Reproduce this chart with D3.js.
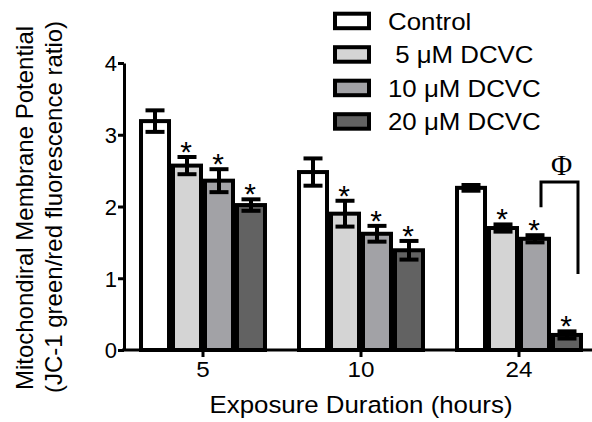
<!DOCTYPE html>
<html>
<head>
<meta charset="utf-8">
<script src="https://cdn.jsdelivr.net/npm/d3@7"></script>
<style>
  body { margin: 0; background: #fff; }
  svg { font-family: Arial, "Liberation Sans", sans-serif; }
</style>
</head>
<body>
<svg width="592" height="422"></svg>
<script>
var durations = ["5", "10", "24"];
var groups = ["Control", " 5 \u03bcM DCVC", "10 \u03bcM DCVC", "20 \u03bcM DCVC"];
var colors = ["#ffffff", "#d4d4d4", "#a2a2a6", "#626262"];

// mean per duration, one array per treatment
var control = [3.19, 2.48, 2.26];
var dcvc5 = [2.57, 1.90, 1.70];
var dcvc10 = [2.36, 1.62, 1.55];
var dcvc20 = [2.02, 1.39, 0.21];

// error (half range of the bars)
var errControl = [0.15, 0.19, 0.04];
var errDcvc5 = [0.12, 0.18, 0.05];
var errDcvc10 = [0.16, 0.11, 0.05];
var errDcvc20 = [0.08, 0.13, 0.05];

// significance stars: [duration index][group index]
var stars = [[0, 1, 1, 1], [0, 1, 1, 1], [0, 1, 1, 1]];

// phi bracket between 10 and 20 uM at 24 h: top, left leg end, right leg end
var bracketVals = [2.34, 1.99, 1.06];

var yTicks = [0, 1, 2, 3, 4];

var means = [control, dcvc5, dcvc10, dcvc20];
var errs = [errControl, errDcvc5, errDcvc10, errDcvc20];

// the original text is a little wide
var sx = 1.1;

var svg = d3.select("svg");

var x0 = d3.scaleBand()
    .domain(durations)
    .range([124, 598])
    .paddingInner(0.19)
    .paddingOuter(0.095);

var x1 = d3.scaleBand()
    .domain(d3.range(groups.length))
    .range([0, x0.bandwidth()]);

var y = d3.scaleLinear()
    .domain([0, 4])
    .range([350, 63]);

var data = [];
durations.forEach(function (d, i) {
    groups.forEach(function (g, j) {
        data.push({dur: d, di: i, gi: j, value: means[j][i], err: errs[j][i], star: stars[i][j]});
    });
});

function cx(d) { return x0(d.dur) + x1(d.gi) + x1.bandwidth() / 2; }

// bars
svg.append("g")
    .selectAll("rect")
    .data(data)
    .enter().append("rect")
    .attr("x", function (d) { return x0(d.dur) + x1(d.gi) + 2; })
    .attr("width", x1.bandwidth() - 4)
    .attr("y", function (d) { return y(d.value); })
    .attr("height", function (d) { return y(0) - y(d.value); })
    .attr("fill", function (d) { return colors[d.gi]; })
    .attr("stroke", "#000")
    .attr("stroke-width", 4);

// error bars
var eb = svg.append("g").attr("stroke", "#000").attr("stroke-width", 4);
data.forEach(function (d) {
    var c = cx(d);
    eb.append("line")
        .attr("x1", c).attr("x2", c)
        .attr("y1", y(d.value + d.err)).attr("y2", y(d.value - d.err));
    eb.append("line")
        .attr("x1", c - 9.5).attr("x2", c + 9.5)
        .attr("y1", y(d.value + d.err)).attr("y2", y(d.value + d.err));
    eb.append("line")
        .attr("x1", c - 9.5).attr("x2", c + 9.5)
        .attr("y1", y(d.value - d.err)).attr("y2", y(d.value - d.err));
});

// stars
svg.append("g")
    .selectAll("text")
    .data(data.filter(function (d) { return d.star; }))
    .enter().append("text")
    .attr("x", function (d) { return cx(d) - 1; })
    .attr("y", function (d) { return y(d.value + d.err) + 5; })
    .attr("text-anchor", "middle")
    .attr("font-size", 30)
    .text("*");

// phi bracket
var bl = x0("24") + x1(2) + x1.bandwidth() / 2 + 6;
var br = x0("24") + x1(3) + x1.bandwidth() / 2 + 11;
svg.append("path")
    .attr("d", "M" + bl + "," + y(bracketVals[1]) + "V" + y(bracketVals[0]) +
        "H" + br + "V" + y(bracketVals[2]))
    .attr("fill", "none")
    .attr("stroke", "#000")
    .attr("stroke-width", 3);
svg.append("text")
    .attr("x", (bl + br) / 2 + 2)
    .attr("y", y(bracketVals[0]) - 7)
    .attr("text-anchor", "middle")
    .attr("font-family", "'Liberation Serif', 'Times New Roman', serif")
    .attr("font-size", 29)
    .text("\u03a6");

// axes
var yAxis = svg.append("g")
    .attr("transform", "translate(124,0)")
    .call(d3.axisLeft(y).tickValues(yTicks).tickFormat(d3.format("d")).tickSize(6).tickSizeOuter(0).tickPadding(1));

var xAxis = svg.append("g")
    .attr("transform", "translate(0,350)")
    .call(d3.axisBottom(x0).tickSize(7).tickSizeOuter(0).tickPadding(4));

[yAxis, xAxis].forEach(function (a) {
    a.select(".domain").attr("stroke-width", 3);
    a.selectAll(".tick line").attr("stroke-width", 3);
    a.selectAll(".tick text")
        .attr("font-size", 22)
        .attr("font-family", "Arial, 'Liberation Sans', sans-serif")
        .attr("fill", "#000");
});
xAxis.select(".domain").attr("d", "M122,0H592");
xAxis.selectAll(".tick text").attr("transform", "scale(" + sx + ",1)");
yAxis.selectAll(".tick text").attr("dy", "0.36em").attr("x", -7);

// axis titles
svg.append("text")
    .attr("transform", "translate(361,413) scale(" + sx + ",1)")
    .attr("text-anchor", "middle")
    .attr("font-size", 23.5)
    .text("Exposure Duration (hours)");

svg.append("text")
    .attr("transform", "translate(33,208) rotate(-90)")
    .attr("text-anchor", "middle")
    .attr("font-size", 24)
    .text("Mitochondiral Membrane Potential");

svg.append("text")
    .attr("transform", "translate(62,207) rotate(-90)")
    .attr("text-anchor", "middle")
    .attr("font-size", 24)
    .text("(JC-1 green/red fluorescence ratio)");

// legend
var legend = svg.append("g")
    .selectAll("g")
    .data(groups)
    .enter().append("g")
    .attr("transform", function (d, i) { return "translate(335," + (13.7 + i * 33.5) + ")"; });

legend.append("rect")
    .attr("width", 34)
    .attr("height", 14.5)
    .attr("fill", function (d, i) { return colors[i]; })
    .attr("stroke", "#000")
    .attr("stroke-width", 4);

legend.append("text")
    .attr("transform", "translate(53,16) scale(" + sx + ",1)")
    .attr("font-size", 23.5)
    .style("white-space", "pre")
    .text(function (d) { return d; });
</script>
</body>
</html>
